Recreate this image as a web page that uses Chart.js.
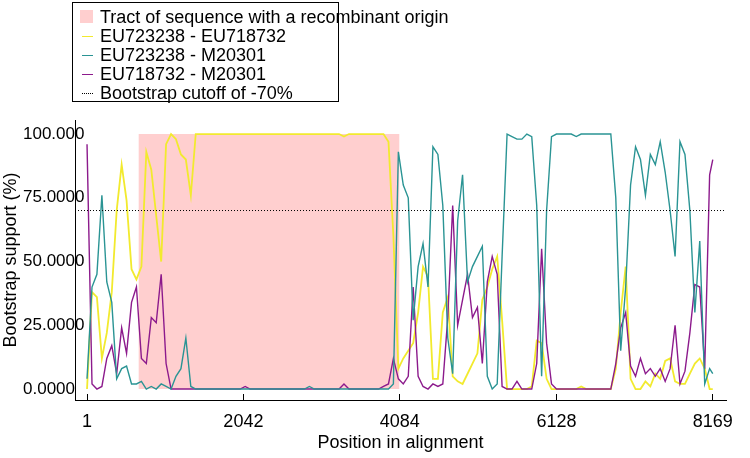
<!DOCTYPE html>
<html>
<head>
<meta charset="utf-8">
<script src="https://cdn.jsdelivr.net/npm/chart.js@4.4.1/dist/chart.umd.min.js"></script>
<style>
    html, body { margin: 0; padding: 0; background: #fff; }
    #wrap { position: relative; width: 750px; height: 458px; }
    #legend {
        position: absolute; left: 72px; top: 2px; width: 265px; height: 98px;
        border: 1px solid #000; background: #fff;
        font: 18px "Liberation Sans", Arial, sans-serif; color: #000;
    }
    .row { position: absolute; left: 0; width: 100%; height: 19px; line-height: 19px; white-space: nowrap; }
    .txt { position: absolute; left: 27px; top: 0; }
    .box { position: absolute; left: 7px; top: 2px; width: 13px; height: 13px; }
    .dash { position: absolute; left: 9px; top: 9px; width: 11px; height: 0; }
</style>
</head>
<body>
<div id="wrap">
    <canvas id="rdpChart" width="750" height="458"></canvas>
    <div id="legend"></div>
</div>
<script>
// window centres along the alignment
const positions = [
    1, 66, 130, 195, 259, 324, 388, 453, 517, 582,
    646, 711, 775, 840, 904, 969, 1033, 1098, 1162, 1227,
    1291, 1356, 1420, 1485, 1549, 1614, 1678, 1743, 1807, 1872,
    1936, 2001, 2065, 2130, 2194, 2259, 2323, 2388, 2452, 2517,
    2581, 2646, 2710, 2775, 2839, 2904, 2968, 3033, 3097, 3162,
    3226, 3291, 3355, 3420, 3484, 3549, 3613, 3678, 3742, 3807,
    3871, 3936, 4000, 4065, 4129, 4194, 4258, 4323, 4387, 4452,
    4516, 4581, 4645, 4710, 4774, 4839, 4903, 4968, 5032, 5097,
    5161, 5226, 5290, 5355, 5419, 5484, 5548, 5613, 5677, 5742,
    5806, 5871, 5935, 6000, 6064, 6129, 6193, 6258, 6322, 6387,
    6451, 6516, 6580, 6645, 6709, 6774, 6838, 6903, 6967, 7032,
    7096, 7161, 7225, 7290, 7354, 7419, 7483, 7548, 7612, 7677,
    7741, 7806, 7870, 7935, 7999, 8064, 8128, 8169
];

const seqPairs = ['EU723238 - EU718732', 'EU723238 - M20301', 'EU718732 - M20301'];

// EU723238 - EU718732
const supportA = [
    0, 38, 36, 12, 22, 38, 70, 88, 74, 47,
    43, 48, 93, 86, 68, 50, 96, 100, 98, 92,
    90, 76, 100, 100, 100, 100, 100, 100, 100, 100,
    100, 100, 100, 100, 100, 100, 100, 100, 100, 100,
    100, 100, 100, 100, 100, 100, 100, 100, 100, 100,
    100, 100, 99, 100, 100, 100, 100, 100, 100, 100,
    100, 97, 60, 8, 12, 15, 18, 30, 48, 44,
    4, 4, 30, 36, 5, 3, 2, 6, 10, 14,
    35, 40, 47, 52, 27, 0, 0, 0, 0, 0,
    1, 19, 18, 4, 0, 0, 0, 0, 0, 0,
    1, 0, 0, 0, 0, 0, 0, 8, 30, 48,
    4, 0, 0, 3, 1, 6, 4, 11, 12, 3,
    2, 2, 6, 10, 12, 8, 0, 0
];

// EU723238 - M20301
const supportB = [
    4, 40, 45, 76, 42, 34, 4, 8, 9, 2,
    2, 3, 0, 1, 0, 2, 1, 0, 5, 8,
    20, 1, 0, 0, 0, 0, 0, 0, 0, 0,
    0, 0, 0, 0, 0, 0, 0, 0, 0, 0,
    0, 0, 0, 0, 0, 1, 0, 0, 0, 0,
    0, 0, 0, 0, 0, 0, 0, 0, 0, 0,
    0, 0, 2, 93, 80, 75, 27, 48, 57, 40,
    95, 92, 72, 20, 6, 66, 84, 42, 48, 52,
    56, 5, 0, 2, 52, 100, 99, 98, 98, 100,
    99, 72, 5, 70, 99, 100, 100, 100, 100, 99,
    100, 100, 100, 100, 100, 100, 100, 75, 15, 40,
    80, 95, 90, 76, 92, 88, 97, 85, 70, 52,
    97, 92, 70, 30, 58, 2, 8, 6
];

// EU718732 - M20301
const supportC = [
    96, 2, 0, 1, 12, 17, 6, 24, 14, 34,
    40, 12, 10, 28, 26, 45, 10, 0, 0, 0,
    0, 0, 0, 0, 0, 0, 0, 0, 0, 0,
    0, 0, 1, 0, 0, 0, 0, 0, 0, 0,
    0, 0, 0, 0, 0, 0, 0, 0, 0, 0,
    0, 0, 2, 0, 0, 0, 0, 0, 0, 0,
    1, 2, 12, 4, 2, 5, 40, 5, 1, 0,
    2, 1, 2, 28, 72, 25, 35, 45, 28, 32,
    10, 42, 52, 45, 1, 0, 0, 3, 0, 0,
    0, 10, 55, 18, 2, 0, 0, 0, 0, 0,
    0, 0, 0, 0, 0, 0, 0, 10, 24, 30,
    9, 5, 12, 6, 8, 5, 8, 3, 8, 25,
    2, 7, 22, 41, 40, 8, 84, 90
];

const tractLabel = 'Tract of sequence with a recombinant origin';
const tractStart = 672;
const tractEnd = 4080;
const tractTop = 100;

const cutoffLabel = 'Bootstrap cutoff of -70%';
const cutoffValue = 70;

const xMin = -156, xMax = 8342;
const yMin = -4.3, yMax = 105.5;
const xTickValues = [1, 2042, 4084, 6128, 8169];
const yTickValues = [0, 25, 50, 75, 100];
const yTickLabels = ['0.0000', '25.0000', '50.0000', '75.0000', '100.000'];

const colors = ['#f2ea2e', '#2a9494', '#8c1a8c'];
const tractColor = '#ffcfcf';

function toPoints(vals) {
    return positions.map((p, i) => ({ x: p, y: vals[i] }));
}

Chart.defaults.font.family = '"Liberation Sans", Arial, sans-serif';
Chart.defaults.color = '#000';

const ctx = document.getElementById('rdpChart').getContext('2d');
new Chart(ctx, {
    type: 'line',
    data: {
        datasets: [
            {
                label: cutoffLabel,
                data: [{ x: xMin, y: cutoffValue }, { x: xMax, y: cutoffValue }],
                borderColor: '#000', borderWidth: 1, borderDash: [1, 2],
                pointRadius: 0, order: 0
            },
            {
                label: seqPairs[1], data: toPoints(supportB),
                borderColor: colors[1], borderWidth: 1.4, pointRadius: 0, order: 1
            },
            {
                label: seqPairs[2], data: toPoints(supportC),
                borderColor: colors[2], borderWidth: 1.4, pointRadius: 0, order: 2
            },
            {
                label: seqPairs[0], data: toPoints(supportA),
                borderColor: colors[0], borderWidth: 1.8, pointRadius: 0, order: 3
            },
            {
                label: tractLabel,
                data: [{ x: tractStart, y: tractTop }, { x: tractEnd, y: tractTop }],
                borderColor: 'rgba(0,0,0,0)', backgroundColor: tractColor,
                fill: 'origin', pointRadius: 0, order: 5
            }
        ]
    },
    options: {
        responsive: false,
        animation: false,
        events: [],
        layout: { padding: { top: 120, right: 10, bottom: 4, left: 0 } },
        plugins: { legend: { display: false }, tooltip: { enabled: false } },
        elements: { line: { tension: 0 } },
        scales: {
            x: {
                type: 'linear', min: xMin, max: xMax,
                afterBuildTicks: s => { s.ticks = xTickValues.map(v => ({ value: v })); },
                afterFit: s => { s.height = 54; },
                ticks: { callback: v => String(v), padding: 17, maxRotation: 0, autoSkip: false, font: { size: 18 } },
                grid: { display: true, drawOnChartArea: false, drawTicks: true, tickLength: -6, color: '#000' },
                border: { display: true, color: '#000', width: 1 },
                title: { display: true, text: 'Position in alignment', font: { size: 18 }, padding: { top: 0, bottom: 0 } }
            },
            y: {
                type: 'linear', min: yMin, max: yMax,
                afterBuildTicks: s => { s.ticks = yTickValues.map(v => ({ value: v })); },
                afterFit: s => { s.width = 75; },
                ticks: {
                    callback: v => yTickLabels[yTickValues.indexOf(v)],
                    mirror: true, padding: -52, font: { size: 17 }
                },
                grid: { display: false, drawTicks: false },
                border: { display: true, color: '#000', width: 1 },
                title: { display: true, text: 'Bootstrap support (%)', font: { size: 18 }, padding: { top: 0, bottom: 0 } }
            }
        }
    }
});

// legend box, same order as the original figure
const legendItems = [
    { label: tractLabel, kind: 'box', color: tractColor },
    { label: seqPairs[0], kind: 'line', color: colors[0] },
    { label: seqPairs[1], kind: 'line', color: colors[1] },
    { label: seqPairs[2], kind: 'line', color: colors[2] },
    { label: cutoffLabel, kind: 'dots', color: '#000' }
];
const legend = document.getElementById('legend');
legend.innerHTML = legendItems.map((it, i) => {
    let mark;
    if (it.kind === 'box') mark = `<span class="box" style="background:${it.color}"></span>`;
    else if (it.kind === 'line') mark = `<span class="dash" style="border-top:1.5px solid ${it.color}"></span>`;
    else mark = `<span class="dash" style="border-top:1px dotted ${it.color}"></span>`;
    return `<div class="row" style="top:${5 + i * 19}px">${mark}<span class="txt">${it.label}</span></div>`;
}).join('');
</script>
</body>
</html>
